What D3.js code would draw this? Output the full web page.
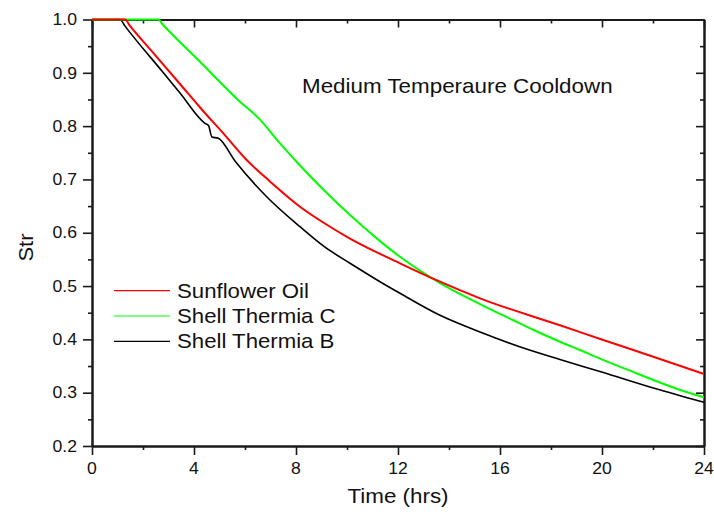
<!DOCTYPE html>
<html><head><meta charset="utf-8">
<script src="https://cdn.jsdelivr.net/npm/d3@7/dist/d3.min.js"></script>
<style>
body{margin:0;background:#fff}
svg{display:block}
text{font-family:"Liberation Sans",Arial,Helvetica,sans-serif;fill:#111}
</style>
</head><body>
<svg id="c" width="714" height="514"></svg>
<script>
// ---------- data ----------
const xTickValues = [0, 4, 8, 12, 16, 20, 24];
const xTickLabels = ["0", "4", "8", "12", "16", "20", "24"];
const xMinorValues = [2, 6, 10, 14, 18, 22];
const yTickValues = [0.2, 0.3, 0.4, 0.5, 0.6, 0.7, 0.8, 0.9, 1.0];
const yTickLabels = ["0.2", "0.3", "0.4", "0.5", "0.6", "0.7", "0.8", "0.9", "1.0"];
const yMinorValues = [0.25, 0.35, 0.45, 0.55, 0.65, 0.75, 0.85, 0.95];

const seriesNames = ["Sunflower Oil", "Shell Thermia C", "Shell Thermia B"];

const sunflowerTime = [0, 1.294, 1.49, 2.4, 3.451, 4.298, 5.2, 6.067, 7.0, 8.157, 9.098, 10.118, 12.078, 13.647, 15.216, 18.353, 19.988, 22.012, 24.0];
const sunflowerStr  = [1.0, 1.0, 0.988, 0.9375, 0.879, 0.8317, 0.7837, 0.7364, 0.6954, 0.6488, 0.6183, 0.5892, 0.5427, 0.5082, 0.4770, 0.4264, 0.3999, 0.3673, 0.3350];

const thermiaCTime = [0, 2.6, 2.784, 4.169, 5.804, 6.55, 7.373, 8.157, 9.098, 10.118, 11.294, 12.078, 13.647, 15.216, 16.5, 17.4, 18.353, 19.137, 19.988, 21.0, 22.012, 22.929, 24.0];
const thermiaCStr  = [1.0, 1.0, 0.9902, 0.924, 0.8458, 0.8140, 0.7676, 0.7261, 0.6796, 0.6331, 0.5843, 0.5549, 0.5057, 0.4663, 0.4363, 0.4157, 0.3956, 0.3800, 0.3626, 0.3433, 0.3238, 0.3075, 0.2913];

const thermiaBTime = [0, 1.098, 1.294, 2.8, 3.451, 4.431, 4.569, 4.702, 4.953, 5.608, 6.851, 8.157, 9.098, 10.118, 11.294, 12.078, 13.647, 15.216, 16.8, 18.353, 19.988, 22.012, 24.0];
const thermiaBStr  = [1.0, 1.0, 0.9876, 0.9000, 0.8621, 0.8053, 0.8012, 0.7796, 0.7772, 0.7346, 0.6676, 0.6113, 0.5744, 0.5427, 0.5082, 0.4864, 0.4451, 0.4138, 0.3857, 0.3622, 0.3388, 0.3088, 0.2819];

const titleText = "Medium Temperaure Cooldown";
const xTitle = "Time (hrs)";
const yTitle = "Str";

// ---------- drawing ----------
const svg = d3.select("#c");
const x = d3.scaleLinear().domain([0, 24]).range([92, 704]);
const y = d3.scaleLinear().domain([0.2, 1.0]).range([446, 19.5]);
const axisColor = "#1a1a1a";

function label(px, py, str, size, anchor, sx, rot) {
  return svg.append("g")
    .attr("transform", `translate(${px},${py})${rot ? ` rotate(${rot})` : ""} scale(${sx},1)`)
    .append("text").attr("text-anchor", anchor).attr("font-size", size).text(str);
}

function styleAxis(g) {
  g.select(".domain").attr("stroke", axisColor).attr("stroke-width", 2);
  g.selectAll(".tick line").attr("stroke", axisColor).attr("stroke-width", 1.6);
  g.selectAll(".tick text").remove();
}

const axes = [
  [d3.axisBottom(x).tickValues(xTickValues).tickSize(9), "translate(0,446)"],
  [d3.axisBottom(x).tickValues(xMinorValues).tickSize(4), "translate(0,446)"],
  [d3.axisTop(x).tickValues(xTickValues).tickSize(-8), "translate(0,19.5)"],
  [d3.axisTop(x).tickValues(xMinorValues).tickSize(-4), "translate(0,19.5)"],
  [d3.axisLeft(y).tickValues(yTickValues).tickSize(9), "translate(92,0)"],
  [d3.axisLeft(y).tickValues(yMinorValues).tickSize(4), "translate(92,0)"],
  [d3.axisRight(y).tickValues(yTickValues).tickSize(-8), "translate(704,0)"],
  [d3.axisRight(y).tickValues(yMinorValues).tickSize(-4), "translate(704,0)"]
];
axes.forEach(([ax, tr]) => {
  svg.append("g").attr("transform", tr).call(ax.tickSizeOuter(0).tickFormat("")).call(styleAxis);
});

// tick labels
xTickValues.forEach((v, i) => label(x(v), 474, xTickLabels[i], 16, "middle", 1.1));
yTickValues.forEach((v, i) => label(77, y(v) + 5.7, yTickLabels[i], 16, "end", 1.1));

// series
const series = [
  {t: thermiaBTime, v: thermiaBStr, color: "#000000", w: 1.6},
  {t: thermiaCTime, v: thermiaCStr, color: "#00ff00", w: 2},
  {t: sunflowerTime, v: sunflowerStr, color: "#ff0000", w: 2}
];
const line = d3.line().x(d => x(d[0])).y(d => y(d[1])).curve(d3.curveMonotoneX);
series.forEach(s => {
  svg.append("path")
    .datum(s.t.map((t, i) => [t, s.v[i]]))
    .attr("fill", "none").attr("stroke", s.color).attr("stroke-width", s.w)
    .attr("stroke-linejoin", "round")
    .attr("d", line);
});

// legend
const legendColors = ["#ff0000", "#00ff00", "#000000"];
seriesNames.forEach((n, i) => {
  const ly = 290.7 + i * 25.3;
  svg.append("line").attr("x1", 114).attr("x2", 170).attr("y1", ly).attr("y2", ly)
    .attr("stroke", legendColors[i]).attr("stroke-width", 1.2);
  label(177, ly + 6.8, n, 20, "start", 1.11);
});

// titles
label(302, 93.3, titleText, 20, "start", 1.12);
label(398, 503, xTitle, 20, "middle", 1.12);
label(33.3, 247.5, yTitle, 20, "middle", 1.1, -90);
</script>
</body></html>
